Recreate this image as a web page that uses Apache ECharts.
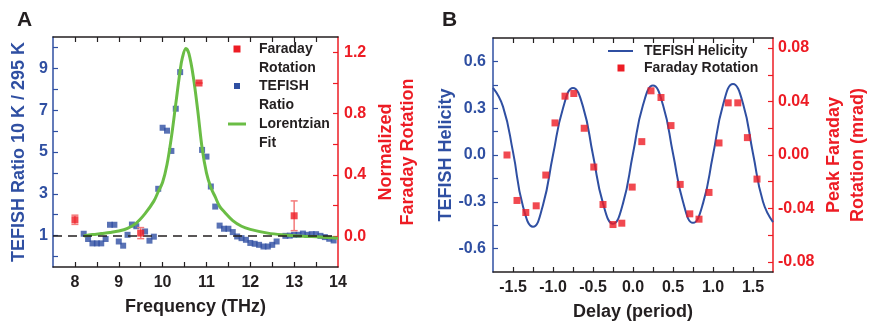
<!DOCTYPE html>
<html>
<head>
<meta charset="utf-8">
<script src="https://cdn.jsdelivr.net/npm/echarts@6/dist/echarts.min.js"></script>
<style>
  html, body { margin: 0; padding: 0; background: #fff; }
  #chart { width: 874px; height: 330px; }
</style>
</head>
<body>
<div id="chart"></div>
<script>
// ---------- Panel A: TEFISH ratio vs frequency ----------
const tefishFreq = [8.2, 8.3, 8.4, 8.5, 8.6, 8.7, 8.8, 8.9, 9.0, 9.1, 9.2, 9.3, 9.4, 9.6, 9.7, 9.8, 9.9,
  10.0, 10.1, 10.2, 10.3, 10.4, 10.9, 11.0, 11.1, 11.2, 11.3, 11.4, 11.5, 11.6, 11.7, 11.8, 11.9,
  12.0, 12.1, 12.2, 12.3, 12.4, 12.5, 12.6, 12.8, 12.9, 13.0, 13.1, 13.2, 13.3, 13.4, 13.5, 13.6,
  13.7, 13.8, 13.9];
const tefishRatio = [1.09, 0.84, 0.63, 0.63, 0.63, 0.84, 1.52, 1.52, 0.72, 0.52, 1.04, 1.53, 1.45, 1.2, 0.76, 0.95, 3.24,
  6.16, 6.02, 5.05, 7.07, 8.82, 5.1, 4.78, 3.35, 2.39, 1.48, 1.33, 1.33, 1.17, 0.96, 0.88, 0.8,
  0.65, 0.61, 0.56, 0.48, 0.48, 0.56, 0.72, 0.99, 1.0, 1.04, 1.04, 1.1, 1.04, 1.07, 1.07, 0.99,
  0.93, 0.85, 0.77];

// Lorentzian fit curve
const fitFreq = [8.2, 8.4, 8.6, 8.8, 9.0, 9.2, 9.4, 9.6, 9.8, 9.9, 10.0, 10.1, 10.2, 10.3, 10.4, 10.45,
  10.53, 10.6, 10.7, 10.8, 10.9, 11.0, 11.1, 11.2, 11.3, 11.4, 11.6, 11.8, 12.0, 12.4, 12.8, 13.2, 13.6, 14.0];
const fitRatio = [0.98, 1.05, 1.1, 1.15, 1.22, 1.35, 1.6, 2.05, 2.65, 3.1, 3.55, 4.4, 5.7, 7.3, 8.9, 9.5,
  9.95, 9.7, 8.6, 7.0, 5.2, 4.0, 3.3, 2.85, 2.4, 2.15, 1.72, 1.45, 1.3, 1.12, 1.03, 0.97, 0.94, 0.88];

// Normalized Faraday rotation with error bars
const faradayFreq = [8.0, 9.5, 10.83, 13.0];
const faradayNorm = [0.108, 0.021, 1.0, 0.134];
const faradayErr = [0.03, 0.036, 0, 0.097];

// ---------- Panel B: helicity vs delay ----------
const delayFit = [-1.75, -1.625, -1.5, -1.375, -1.25, -1.125, -1.0, -0.875, -0.75, -0.625, -0.5, -0.375,
  -0.25, -0.125, 0, 0.125, 0.25, 0.375, 0.5, 0.625, 0.75, 0.875, 1.0, 1.125, 1.25, 1.375, 1.5, 1.625, 1.75];
const helicityFit = [0.43, 0.31, 0.02, -0.33, -0.46, -0.32, 0.0, 0.30, 0.43, 0.31, 0.0, -0.31,
  -0.44, -0.31, 0.01, 0.32, 0.445, 0.32, 0.01, -0.30, -0.435, -0.31, 0.0, 0.32, 0.455, 0.33, 0.01, -0.30, -0.43];

const delayFaraday = [-1.575, -1.45, -1.34, -1.21, -1.09, -0.975, -0.85, -0.74, -0.61, -0.49, -0.375, -0.25,
  -0.14, -0.01, 0.11, 0.225, 0.35, 0.475, 0.59, 0.71, 0.825, 0.95, 1.075, 1.19, 1.31, 1.43, 1.55];
const peakFaraday = [0.000, -0.034, -0.043, -0.038, -0.015, 0.024, 0.044, 0.046, 0.020, -0.009, -0.037, -0.052,
  -0.051, -0.024, 0.010, 0.048, 0.043, 0.022, -0.022, -0.044, -0.048, -0.028, 0.009, 0.039, 0.039, 0.013, -0.018];

// ---------- Tick positions and labels ----------
const freqTicks = [8, 8.5, 9, 9.5, 10, 10.5, 11, 11.5, 12, 12.5, 13, 13.5];
const freqLabels = [8, 9, 10, 11, 12, 13, 14];
const ratioTicks = [0, 1, 2, 3, 4, 5, 6, 7, 8, 9, 10];
const ratioLabels = [1, 3, 5, 7, 9];
const normTicks = [0, 0.2, 0.4, 0.6, 0.8, 1.0, 1.2];
const normLabels = [0, 0.4, 0.8, 1.2];
const delayTicks = [-1.5, -1.25, -1, -0.75, -0.5, -0.25, 0, 0.25, 0.5, 0.75, 1, 1.25, 1.5];
const delayLabels = [-1.5, -1, -0.5, 0, 0.5, 1, 1.5];
const helTicks = [-0.6, -0.45, -0.3, -0.15, 0, 0.15, 0.3, 0.45, 0.6];
const helLabels = [-0.6, -0.3, 0, 0.3, 0.6];
const mradTicks = [-0.08, -0.06, -0.04, -0.02, 0, 0.02, 0.04, 0.06, 0.08];
const mradLabels = [-0.08, -0.04, 0, 0.04, 0.08];

const BLUE = '#2f4fa2';
const RED = '#ed1c24';
const GREEN = '#6abd45';
const INK = '#231f20';
const FONT = '"Liberation Sans", Arial, sans-serif';

const zip = (a, b) => a.map((v, i) => [v, b[i]]);

function tickAxis(opts) {
  const color = opts.color || INK;
  return Object.assign({
    type: 'value',
    axisLine: { show: true, onZero: false, lineStyle: { color: color, width: 1.5 } },
    axisTick: { show: true, inside: true, length: 5, customValues: opts.ticks, lineStyle: { color: color, width: 1.2 } },
    axisLabel: opts.labels ? {
      show: true, customValues: opts.labels, margin: opts.margin || 7,
      color: color, fontFamily: FONT, fontWeight: 'bold', fontSize: 16,
      formatter: opts.fmt || (v => String(v))
    } : { show: false },
    splitLine: { show: false },
    nameTextStyle: { color: color, fontFamily: FONT, fontWeight: 'bold', fontSize: 18, lineHeight: opts.lineHeight || 22 }
  }, opts.extra);
}

const chart = echarts.init(document.getElementById('chart'), null, { renderer: 'canvas' });

const legendText = (x, y, t) => ({
  type: 'text', x: x, y: y,
  style: { text: t, fill: INK, font: 'bold 14px ' + FONT, verticalAlign: 'middle', textAlign: 'left' }
});

// vertical axis title, reading bottom to top
const axisTitle = (x, y, t, color) => ({
  type: 'text', x: x, y: y, rotation: Math.PI / 2,
  style: { text: t, fill: color, font: 'bold 18px ' + FONT, verticalAlign: 'middle', textAlign: 'center' }
});

chart.setOption({
  animation: false,
  title: [
    { text: 'A', left: 12, top: 5, textStyle: { fontFamily: FONT, fontWeight: 'bold', fontSize: 21, color: INK } },
    { text: 'B', left: 437, top: 5, textStyle: { fontFamily: FONT, fontWeight: 'bold', fontSize: 21, color: INK } }
  ],
  grid: [
    { left: 53, top: 37, width: 285, height: 230 },
    { left: 493, top: 38, width: 280, height: 234 }
  ],
  xAxis: [
    tickAxis({ ticks: freqTicks, labels: freqLabels, margin: 8,
      extra: { gridIndex: 0, position: 'bottom', min: 7.5, max: 14,
        name: 'Frequency (THz)', nameLocation: 'middle', nameGap: 29 } }),
    tickAxis({ ticks: freqTicks, extra: { gridIndex: 0, position: 'top', min: 7.5, max: 14 } }),
    tickAxis({ ticks: delayTicks, labels: delayLabels, margin: 8, fmt: v => v.toFixed(1),
      extra: { gridIndex: 1, position: 'bottom', min: -1.75, max: 1.75,
        name: 'Delay (period)', nameLocation: 'middle', nameGap: 26 } }),
    tickAxis({ ticks: delayTicks, extra: { gridIndex: 1, position: 'top', min: -1.75, max: 1.75 } })
  ],
  yAxis: [
    tickAxis({ ticks: ratioTicks, labels: ratioLabels, color: BLUE, margin: 5,
      extra: { gridIndex: 0, position: 'left', min: -0.5, max: 10.5 } }),
    tickAxis({ ticks: normTicks, labels: normLabels, color: RED, margin: 6, fmt: v => v.toFixed(1),
      extra: { gridIndex: 0, position: 'right', min: -0.2, max: 1.3,
        name: 'Normalized\nFaraday Rotation', nameLocation: 'middle', nameGap: 37 } }),
    tickAxis({ ticks: helTicks, labels: helLabels, color: BLUE, margin: 7, fmt: v => v.toFixed(1),
      extra: { gridIndex: 1, position: 'left', min: -0.75, max: 0.75 } }),
    tickAxis({ ticks: mradTicks, labels: mradLabels, color: RED, margin: 5, fmt: v => v.toFixed(2), lineHeight: 24,
      extra: { gridIndex: 1, position: 'right', min: -0.0875, max: 0.0875,
        name: 'Peak Faraday\nRotation (mrad)', nameLocation: 'middle', nameGap: 49 } })
  ],
  series: [
    {
      name: 'TEFISH Ratio', type: 'scatter', xAxisIndex: 0, yAxisIndex: 0,
      symbol: 'rect', symbolSize: 6, itemStyle: { color: BLUE },
      data: zip(tefishFreq, tefishRatio), z: 3,
      markLine: {
        silent: true, symbol: 'none', label: { show: false },
        lineStyle: { color: INK, type: [9, 6], width: 1.5 },
        data: [{ yAxis: 1 }]
      }
    },
    {
      name: 'Lorentzian Fit', type: 'line', xAxisIndex: 0, yAxisIndex: 0,
      data: zip(fitFreq, fitRatio), smooth: 0.35, showSymbol: false,
      lineStyle: { color: GREEN, width: 3 }, z: 4
    },
    {
      name: 'Faraday error', type: 'custom', xAxisIndex: 0, yAxisIndex: 1, z: 5,
      data: faradayFreq.map((f, i) => [f, faradayNorm[i] - faradayErr[i], faradayNorm[i] + faradayErr[i]]),
      encode: { x: 0, y: [1, 2] },
      renderItem: (params, api) => {
        const f = api.value(0);
        const lo = api.coord([f, api.value(1)]);
        const hi = api.coord([f, api.value(2)]);
        const w = 3.5;
        const st = { stroke: '#f47a7a', lineWidth: 1.5 };
        return {
          type: 'group', children: [
            { type: 'line', shape: { x1: hi[0], y1: hi[1], x2: lo[0], y2: lo[1] }, style: st },
            { type: 'line', shape: { x1: hi[0] - w, y1: hi[1], x2: hi[0] + w, y2: hi[1] }, style: st },
            { type: 'line', shape: { x1: lo[0] - w, y1: lo[1], x2: lo[0] + w, y2: lo[1] }, style: st }
          ]
        };
      }
    },
    {
      name: 'Faraday Rotation', type: 'scatter', xAxisIndex: 0, yAxisIndex: 1,
      symbol: 'rect', symbolSize: 7, itemStyle: { color: RED },
      data: zip(faradayFreq, faradayNorm), z: 6
    },
    {
      name: 'TEFISH Helicity', type: 'line', xAxisIndex: 2, yAxisIndex: 2,
      data: zip(delayFit, helicityFit), smooth: 0.5, showSymbol: false,
      lineStyle: { color: BLUE, width: 2 }, z: 3
    },
    {
      name: 'Peak Faraday Rotation', type: 'scatter', xAxisIndex: 2, yAxisIndex: 3,
      symbol: 'rect', symbolSize: 7, itemStyle: { color: RED },
      data: zip(delayFaraday, peakFaraday), z: 5
    }
  ],
  graphic: [
    // left axis titles
    axisTitle(19, 152, 'TEFISH Ratio 10 K / 295 K', BLUE),
    axisTitle(446, 155, 'TEFISH Helicity', BLUE),
    // legend, panel A
    { type: 'rect', shape: { x: 233.5, y: 45.5, width: 7, height: 7 }, style: { fill: RED } },
    legendText(259, 49, 'Faraday'),
    legendText(259, 68, 'Rotation'),
    { type: 'rect', shape: { x: 234, y: 83, width: 6, height: 6 }, style: { fill: BLUE } },
    legendText(259, 86, 'TEFISH'),
    legendText(259, 105, 'Ratio'),
    { type: 'line', shape: { x1: 228, y1: 124, x2: 246, y2: 124 }, style: { stroke: GREEN, lineWidth: 3 } },
    legendText(259, 124, 'Lorentzian'),
    legendText(259, 143, 'Fit'),
    // legend, panel B
    { type: 'line', shape: { x1: 608, y1: 51, x2: 633, y2: 51 }, style: { stroke: BLUE, lineWidth: 2 } },
    legendText(644, 51, 'TEFISH Helicity'),
    { type: 'rect', shape: { x: 617.5, y: 64.5, width: 7, height: 7 }, style: { fill: RED } },
    legendText(644, 68, 'Faraday Rotation')
  ]
});
</script>
</body>
</html>
